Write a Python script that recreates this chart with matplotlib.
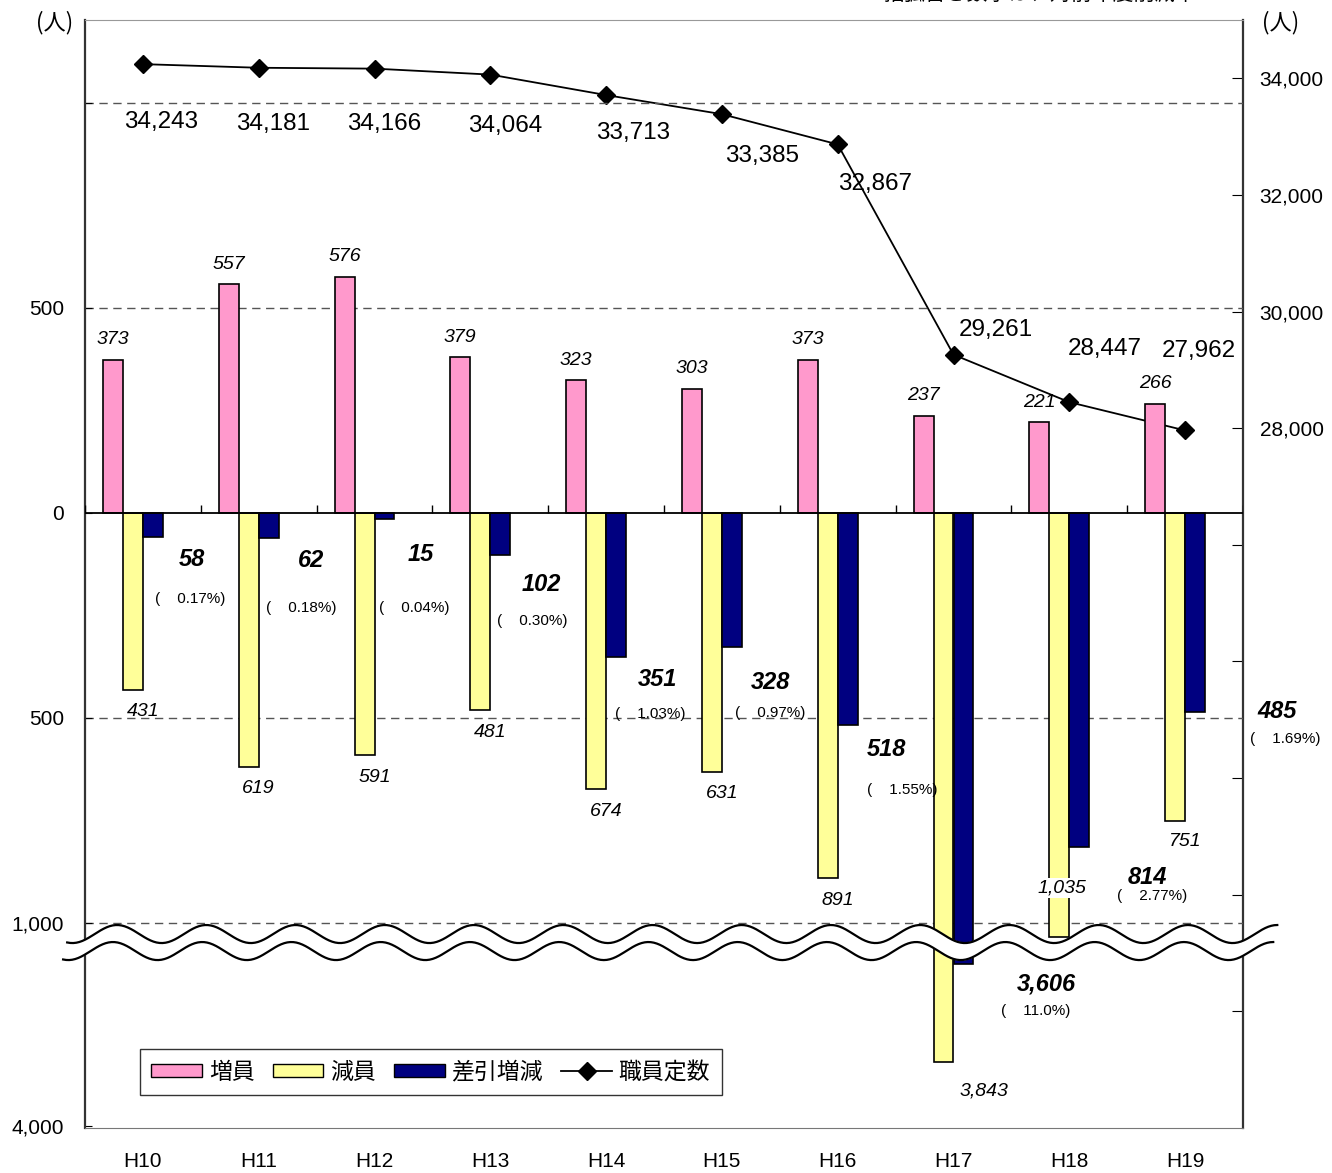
import numpy as np
import matplotlib
matplotlib.use("Agg")
import matplotlib.pyplot as plt
from matplotlib.lines import Line2D
from matplotlib.patches import Patch
from matplotlib.ticker import FixedLocator, FuncFormatter

plt.rcParams["font.family"] = ["Liberation Sans", "Noto Sans CJK JP"]

# 年度ごとの職員数の推移
years = ["H10", "H11", "H12", "H13", "H14", "H15", "H16", "H17", "H18", "H19"]
increase = [373, 557, 576, 379, 323, 303, 373, 237, 221, 266]
decrease = [431, 619, 591, 481, 674, 631, 891, 3843, 1035, 751]
net_change = [58, 62, 15, 102, 351, 328, 518, 3606, 814, 485]
net_rate = ["0.17", "0.18", "0.04", "0.30", "1.03", "0.97", "1.55", "11.0", "2.77", "1.69"]
staff_quota = [34243, 34181, 34166, 34064, 33713, 33385, 32867, 29261, 28447, 27962]

PINK = "#FF99CC"
YELLOW = "#FFFF99"
NAVY = "#000080"
JP = ["Noto Sans CJK JP", "DejaVu Sans"]

# 軸の省略 (1,000〜4,000 の区間を詰める)
BREAK_SHIFT = 2505


def to_axis(v):
    return v + BREAK_SHIFT if v < -2000 else v


# ラベル位置の微調整 (ピクセル, 下向き正)
dec_offsets = [(0, 22)] * 7 + [(30, 29), (-7, -49), (0, 21)]
net_offsets = [(39, 23), (42, 22), (36, 35), (41, 30), (41, 23), (39, 35), (39, 24), (83, 20), (68, 31), (82, 0)]
rate_offsets = [(37, 62), (33, 70), (30, 89), (32, 66), (34, 57), (38, 66), (55, 65), (72, 47), (73, 49), (90, 27)]
quota_offsets = [(18, 58), (14, 56), (10, 55), (15, 51), (27, 38), (40, 42), (37, 40), (42, -25), (35, -53), (14, -79)]

fig = plt.figure(figsize=(13.32, 11.73), dpi=100)
ax = fig.add_axes([85 / 1332, 45 / 1173, 1158 / 1332, 1108 / 1173])
ax2 = ax.twinx()
ax.set_zorder(ax2.get_zorder() + 1)
ax.patch.set_visible(False)

x = np.arange(len(years))
w = 0.1727
dec_axis = [to_axis(-v) for v in decrease]
net_axis = [to_axis(-v) for v in net_change]

ax.bar(x - 1.5 * w, increase, w, color=PINK, edgecolor="black", linewidth=1.2, zorder=3)
ax.bar(x - 0.5 * w, dec_axis, w, color=YELLOW, edgecolor="black", linewidth=1.2, zorder=3)
ax.bar(x + 0.5 * w, net_axis, w, color=NAVY, edgecolor="black", linewidth=1.2, zorder=3)

ax.set_xlim(-0.5, len(years) - 0.5)
ax.set_ylim(-1500, 1202)

for g in (1000, 500, -500, -1000):
    ax.axhline(g, color="#555555", lw=1, linestyle=(0, (6, 4)), zorder=1)
ax.axhline(0, color="black", lw=1.3, zorder=4)
ax.vlines(np.arange(len(years) + 1) - 0.5, 0, 20, color="black", lw=1, zorder=4)

left_ticks = [1000, 500, 0, -500, -1000, -4000 + BREAK_SHIFT]
ax.yaxis.set_major_locator(FixedLocator(left_ticks))
ax.set_yticklabels(["", "500", "0", "500", "1,000", "4,000"])
ax.tick_params(axis="y", direction="in", length=5, labelsize=15, pad=15)
ax.set_xticks(x)
ax.set_xticklabels(years)
ax.tick_params(axis="x", length=0, labelsize=15, pad=17)

for name, sp in ax.spines.items():
    sp.set_zorder(2.5)
ax.spines["left"].set_color("#333333")
ax.spines["left"].set_linewidth(1.6)
ax.spines["bottom"].set_color("#777777")
ax.spines["top"].set_color("#999999")
ax.spines["right"].set_visible(False)
for name in ("left", "bottom", "top"):
    ax2.spines[name].set_visible(False)
ax2.spines["right"].set_color("#333333")
ax2.spines["right"].set_linewidth(1.6)

# 職員定数 (右軸)
ax2.set_ylim(16000, 35000)
ax2.yaxis.set_major_locator(FixedLocator(np.arange(18000, 35000, 2000)))
ax2.yaxis.set_major_formatter(FuncFormatter(lambda v, p: f"{int(v):,}" if v >= 28000 else ""))
ax2.tick_params(axis="y", direction="in", length=8, labelsize=15, pad=12)

ax2.plot(x, staff_quota, color="black", lw=1.3, marker="D", markersize=9, zorder=5)

px = 72 / 100  # pixel -> point

for i, v in enumerate(increase):
    ax.annotate(f"{v}", (x[i] - 1.5 * w, v), xytext=(0, 20 * px), textcoords="offset points",
                ha="center", va="center", fontsize=14, style="italic", zorder=6)

for i, v in enumerate(decrease):
    dx, dy = dec_offsets[i]
    box = dict(facecolor="white", edgecolor="none", pad=1) if i == 8 else None
    ax.annotate(f"{v:,}", (x[i], dec_axis[i]), xytext=(dx * px, -dy * px), textcoords="offset points",
                ha="center", va="center", fontsize=14, style="italic", zorder=6, bbox=box)

for i, v in enumerate(net_change):
    dx, dy = net_offsets[i]
    box = dict(facecolor="white", edgecolor="none", pad=1) if i == 9 else None
    ax.annotate(f"{v:,}", (x[i] + 0.5 * w, net_axis[i]), xytext=(dx * px, -dy * px), textcoords="offset points",
                ha="center", va="center", fontsize=17, style="italic", weight="bold", zorder=6, bbox=box)
    rx, ry = rate_offsets[i]
    ax.annotate(f"(    {net_rate[i]}%)", (x[i] + 0.5 * w, net_axis[i]), xytext=(rx * px, -ry * px),
                textcoords="offset points", ha="center", va="center", fontsize=11, zorder=6, bbox=box)

for i, v in enumerate(staff_quota):
    dx, dy = quota_offsets[i]
    ax2.annotate(f"{v:,}", (x[i], v), xytext=(dx * px, -dy * px), textcoords="offset points",
                 ha="center", va="center", fontsize=17.5, zorder=6)

# 波線による軸の省略記号
xs = np.linspace(-0.654, 9.796, 800)
phase = 2 * np.pi * (xs + 0.2237) / 0.7707
upper = -1027 + 22 * np.cos(phase)
lower = upper - 41.5
xs_low = xs - 0.035
ax.fill(np.concatenate([xs, xs_low[::-1]]), np.concatenate([upper, lower[::-1]]),
        color="white", zorder=4.5, clip_on=False)
ax.plot(xs, upper, color="black", lw=1.6, zorder=4.6, clip_on=False)
ax.plot(xs_low, lower, color="black", lw=1.6, zorder=4.6, clip_on=False)

handles = [
    Patch(facecolor=PINK, edgecolor="black", label="増員"),
    Patch(facecolor=YELLOW, edgecolor="black", label="減員"),
    Patch(facecolor=NAVY, edgecolor="black", label="差引増減"),
    Line2D([], [], color="black", marker="D", markersize=9, lw=1.3, label="職員定数"),
]
leg = ax.legend(handles=handles, loc="lower left", bbox_to_anchor=(0.0475, 0.0298), ncol=4,
                prop={"family": JP, "size": 16.5}, frameon=True, fancybox=False, borderaxespad=0,
                handlelength=2.2, handleheight=0.55, handletextpad=0.3, columnspacing=0.8,
                borderpad=0.5)
leg.get_frame().set_edgecolor("black")
leg.get_frame().set_linewidth(1)
leg.set_zorder(7)

fig.text(55 / 1332, 1 - 23 / 1173, "(人)", family=JP, fontsize=16, ha="center", va="center")
fig.text(1281 / 1332, 1 - 23 / 1173, "(人)", family=JP, fontsize=16, ha="center", va="center")
fig.text(1040 / 1332, 1 + 6 / 1173, "括弧書き数字は、対前年度削減率", family=JP, fontsize=15,
         ha="center", va="center")

fig.savefig("out.png", dpi=100)
